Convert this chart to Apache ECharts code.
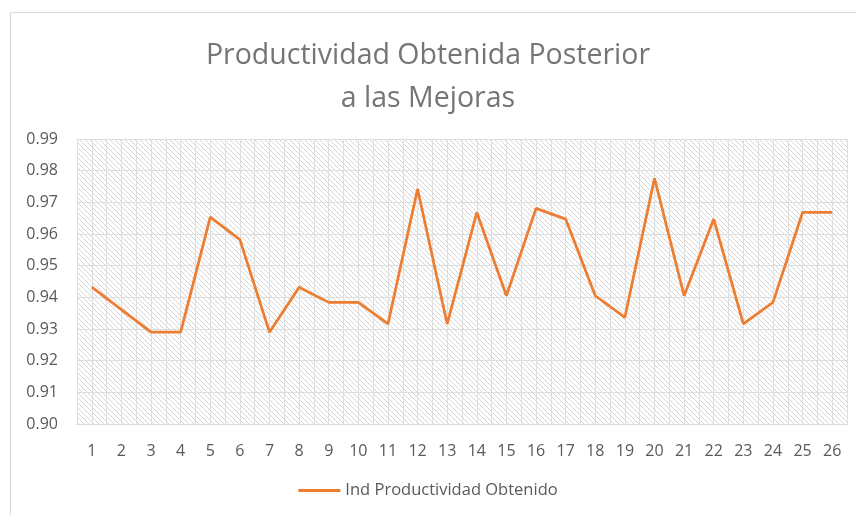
<!DOCTYPE html>
<html>
<head>
<meta charset="utf-8">
<script src="https://cdn.jsdelivr.net/npm/echarts@6/dist/echarts.min.js"></script>
<style>
  html, body { margin: 0; padding: 0; background: #fff; }
  #chart { width: 856px; height: 515px; }
</style>
</head>
<body>
<div id="chart"></div>
<script>
const titleText = 'Productividad Obtenida Posterior\na las Mejoras'
const seriesName = 'Ind Productividad Obtenido'
const categories = ['1', '2', '3', '4', '5', '6', '7', '8', '9', '10', '11', '12', '13',
  '14', '15', '16', '17', '18', '19', '20', '21', '22', '23', '24', '25', '26']
const productividad = [0.9432, 0.9361, 0.9290, 0.9290, 0.9653, 0.9582, 0.9290, 0.9432, 0.9384, 0.9384,
  0.9316, 0.9742, 0.9316, 0.9668, 0.9405, 0.9681, 0.9647, 0.9405, 0.9337, 0.9776,
  0.9405, 0.9647, 0.9316, 0.9384, 0.9668, 0.9668]

// hatch pattern for the plot area
const makeHatch = () => {
  const n = 5
  const c = document.createElement('canvas')
  c.width = n
  c.height = n
  const ctx = c.getContext('2d')
  ctx.fillStyle = '#ffffff'
  ctx.fillRect(0, 0, n, n)
  ctx.strokeStyle = '#d6d6d6'
  ctx.lineWidth = 1
  ctx.beginPath()
  ctx.moveTo(-1, -1)
  ctx.lineTo(n + 1, n + 1)
  ctx.moveTo(-1, n - 1)
  ctx.lineTo(1, n + 1)
  ctx.moveTo(n - 1, -1)
  ctx.lineTo(n + 1, 1)
  ctx.stroke()
  return c
}

const chart = echarts.init(document.getElementById('chart'))

const option = {
  backgroundColor: '#fff',
  animation: false,
  textStyle: { fontFamily: 'Open Sans' },
  graphic: [
    {
      type: 'rect',
      shape: { x: 10.5, y: 12.5, width: 900, height: 600 },
      style: { fill: 'none', stroke: '#d9d9d9', lineWidth: 1 },
      silent: true
    }
  ],
  title: {
    text: titleText,
    left: 'center',
    top: 29,
    textStyle: {
      color: '#757575',
      fontSize: 28.5,
      fontWeight: 'normal',
      lineHeight: 43,
      fontFamily: 'Open Sans'
    }
  },
  legend: {
    bottom: 11,
    left: 'center',
    itemWidth: 42,
    itemHeight: 3,
    itemGap: 6,
    textStyle: { color: '#595959', fontSize: 16.5 },
    data: [{ name: seriesName, icon: 'rect' }]
  },
  grid: {
    left: 77,
    right: 9,
    top: 139,
    bottom: 91,
    show: true,
    borderWidth: 0,
    backgroundColor: { image: makeHatch(), repeat: 'repeat' }
  },
  xAxis: [
    {
      type: 'category',
      data: categories,
      boundaryGap: true,
      axisLine: { show: true, lineStyle: { color: '#d9d9d9', width: 1 } },
      axisTick: { show: false },
      splitLine: { show: false },
      axisLabel: { color: '#595959', fontSize: 16, margin: 19 }
    },
    {
      type: 'value',
      min: 0,
      max: 26,
      interval: 0.5,
      position: 'bottom',
      axisLine: { show: false },
      axisTick: { show: false },
      axisLabel: { show: false },
      splitLine: { show: true, lineStyle: { color: '#dedede', width: 1 } }
    }
  ],
  yAxis: {
    type: 'value',
    min: 0.9,
    max: 0.99,
    interval: 0.01,
    axisLine: { show: false },
    axisTick: { show: false },
    axisLabel: {
      color: '#595959',
      fontSize: 16,
      margin: 19,
      formatter: (v) => v.toFixed(2)
    },
    splitLine: { show: true, lineStyle: { color: '#dedede', width: 1 } }
  },
  series: [
    {
      name: seriesName,
      type: 'line',
      xAxisIndex: 0,
      data: productividad,
      symbol: 'none',
      lineStyle: { color: '#ed7d31', width: 2.75 },
      itemStyle: { color: '#ed7d31' }
    }
  ]
}

chart.setOption(option)
</script>
</body>
</html>
